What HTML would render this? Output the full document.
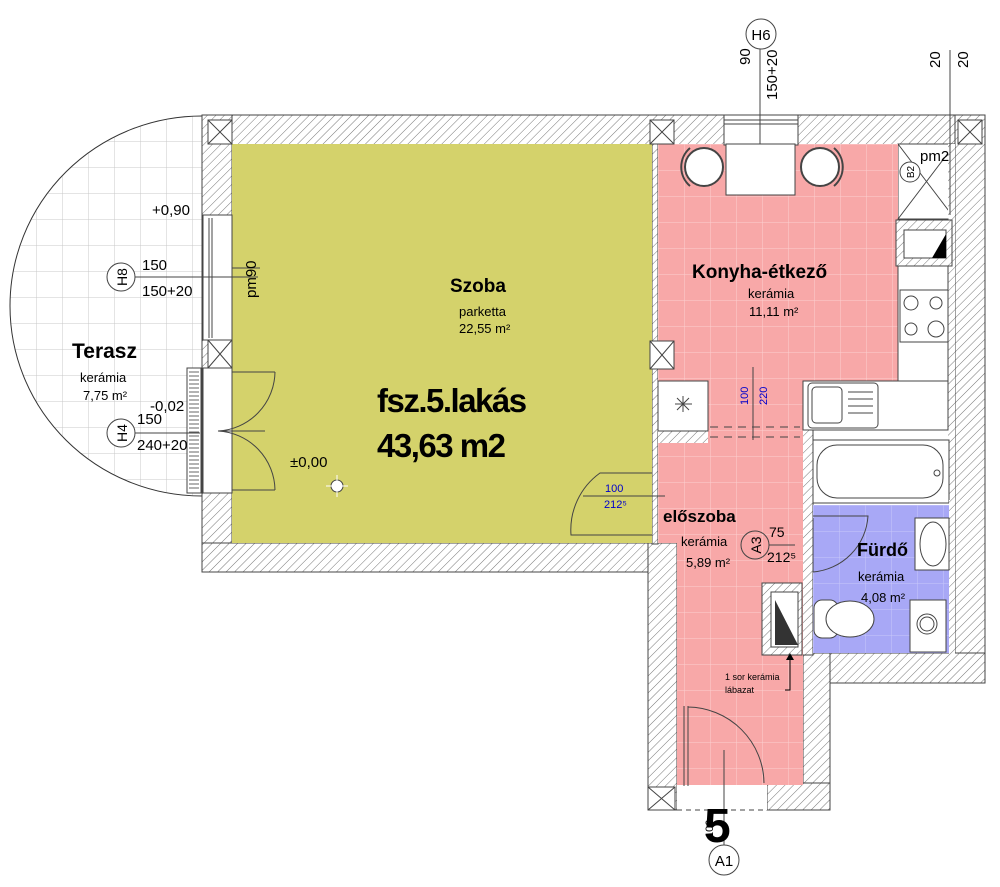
<!DOCTYPE html>
<html><head><meta charset="utf-8"><style>
html,body{margin:0;padding:0;background:#fff}
svg{display:block}
text{font-family:"Liberation Sans",sans-serif;fill:#000}
.b{font-weight:bold}
</style></head><body>
<svg width="1000" height="887" viewBox="0 0 1000 887" xmlns="http://www.w3.org/2000/svg">
<defs>
<pattern id="h" width="6" height="6" patternUnits="userSpaceOnUse" patternTransform="rotate(45)">
<rect width="6" height="6" fill="#fff"/><line x1="0" y1="0" x2="0" y2="6" stroke="#777" stroke-width="1"/>
</pattern>
<pattern id="gp" width="26" height="26" patternUnits="userSpaceOnUse" x="658" y="144">
<rect width="26" height="26" fill="#f8a8a8"/><path d="M0 0H26M0 0V26" stroke="#fcd0d0" stroke-width="1"/>
</pattern>
<pattern id="gb" width="26" height="26" patternUnits="userSpaceOnUse" x="813" y="505">
<rect width="26" height="26" fill="#a8a8f6"/><path d="M0 0H26M0 0V26" stroke="#c8c8fa" stroke-width="1"/>
</pattern>
<pattern id="gt" width="26" height="26" patternUnits="userSpaceOnUse" x="10" y="115">
<rect width="26" height="26" fill="#fff"/><path d="M0 0H26M0 0V26" stroke="#c8c8c8" stroke-width="1"/>
</pattern>
<clipPath id="tc"><path d="M202 116 A192 190 0 0 0 202 496 Z"/></clipPath>
</defs>

<!-- terrace -->
<rect x="0" y="100" width="202" height="410" fill="url(#gt)" clip-path="url(#tc)"/>
<path d="M202 116 A192 190 0 0 0 202 496" fill="none" stroke="#333" stroke-width="1"/>

<!-- walls -->
<rect x="202" y="115" width="783" height="30" fill="url(#h)" stroke="#444"/>
<rect x="202" y="115" width="30" height="457" fill="url(#h)" stroke="#444"/>
<rect x="202" y="543" width="475" height="29" fill="url(#h)" stroke="#444"/>
<rect x="955" y="115" width="30" height="568" fill="url(#h)" stroke="#444"/>
<rect x="800" y="653" width="185" height="30" fill="url(#h)" stroke="#444"/>
<rect x="648" y="543" width="29" height="267" fill="url(#h)" stroke="#444"/>
<rect x="803" y="653" width="27" height="157" fill="url(#h)" stroke="#444"/>
<rect x="767" y="783" width="63" height="27" fill="url(#h)" stroke="#444"/>
<rect x="652" y="144" width="6" height="400" fill="url(#h)" stroke="#444"/>
<rect x="802" y="430" width="11" height="225" fill="url(#h)" stroke="#444"/>
<rect x="898" y="144" width="57" height="75" fill="#fff" stroke="#444"/>
<path d="M898 144L955 219M955 144L898 219" stroke="#444"/>
<rect x="948" y="144" width="7" height="356" fill="url(#h)"/>

<!-- rooms -->
<rect x="232" y="144" width="420" height="399" fill="#d4d26b"/>
<rect x="658" y="144" width="240" height="237" fill="url(#gp)"/>
<rect x="708" y="380" width="95" height="52" fill="url(#gp)"/>
<rect x="658" y="443" width="145" height="100" fill="url(#gp)"/>
<rect x="677" y="540" width="126" height="245" fill="url(#gp)"/>
<rect x="677" y="785" width="90" height="25" fill="#fff"/>
<rect x="813" y="505" width="136" height="148" fill="url(#gb)"/>
<rect x="658" y="430" width="145" height="13" fill="url(#h)"/>
<rect x="708" y="430" width="95" height="13" fill="url(#gp)"/>
<path d="M710 437H800" stroke="#444" stroke-dasharray="8,6"/>
<path d="M710 427H800" stroke="#444" stroke-dasharray="8,6"/>

<!-- wall pillars -->
<rect x="208" y="120" width="24" height="24" fill="#fff" stroke="#444"/><path d="M208 120l24 24M232 120l-24 24" stroke="#444"/>
<rect x="650" y="120" width="24" height="24" fill="#fff" stroke="#444"/><path d="M650 120l24 24M674 120l-24 24" stroke="#444"/>
<rect x="958" y="120" width="24" height="24" fill="#fff" stroke="#444"/><path d="M958 120l24 24M982 120l-24 24" stroke="#444"/>
<rect x="208" y="340" width="24" height="28" fill="#fff" stroke="#444"/><path d="M208 340l24 28M232 340l-24 28" stroke="#444"/>
<rect x="650" y="341" width="24" height="28" fill="#fff" stroke="#444"/><path d="M650 341l24 28M674 341l-24 28" stroke="#444"/>
<rect x="648" y="787" width="27" height="23" fill="#fff" stroke="#444"/><path d="M648 787l27 23M675 787l-27 23" stroke="#444"/>

<!-- left windows / door -->
<rect x="203" y="215" width="29" height="125" fill="#fff" stroke="#444"/>
<path d="M209 218V338M212 218V338" stroke="#444"/>
<rect x="203" y="368" width="29" height="125" fill="#fff" stroke="#444"/>
<rect x="187" y="368" width="14" height="125" fill="#fff" stroke="#444"/>
<path d="M189 372H199M189 376H199M189 380H199M189 384H199M189 388H199M189 392H199M189 396H199M189 400H199M189 404H199M189 408H199M189 412H199M189 416H199M189 420H199M189 424H199M189 428H199M189 432H199M189 436H199M189 440H199M189 444H199M189 448H199M189 452H199M189 456H199M189 460H199M189 464H199M189 468H199M189 472H199M189 476H199M189 480H199M189 484H199M189 488H199" stroke="#666" stroke-width="1"/>
<path d="M232 372H275M232 490H275M218 431H265" stroke="#444"/>
<path d="M275 372A60 60 0 0 1 218 431A60 60 0 0 1 275 490" fill="none" stroke="#444"/>
<path d="M232 268H260" stroke="#444"/>

<!-- top window (kitchen) -->
<rect x="724" y="115" width="74" height="30" fill="#fff" stroke="#444"/>
<path d="M724 120H798M724 124H798" stroke="#444"/>
<path d="M760 20V145" stroke="#444"/>
<path d="M950 50V215" stroke="#444"/>
<rect x="726" y="144" width="69" height="51" fill="#fff" stroke="#444"/>
<circle cx="704" cy="167" r="19" fill="#fff" stroke="#444" stroke-width="2"/>
<circle cx="820" cy="167" r="19" fill="#fff" stroke="#444" stroke-width="2"/>
<path d="M690 148A25 25 0 0 0 690 186M834 148A25 25 0 0 1 834 186" fill="none" stroke="#444" stroke-width="2"/>

<!-- kitchen counter -->
<rect x="898" y="219" width="50" height="211" fill="#fff" stroke="#444"/>
<rect x="896" y="220" width="56" height="46" fill="url(#h)" stroke="#444"/>
<rect x="904" y="230" width="42" height="28" fill="#fff" stroke="#444"/>
<path d="M932 258H946V234Z" fill="#000"/>
<rect x="900" y="290" width="48" height="52" fill="#fff" stroke="#444"/>
<circle cx="911" cy="303" r="7" fill="none" stroke="#444"/><circle cx="936" cy="303" r="6" fill="none" stroke="#444"/>
<circle cx="911" cy="329" r="6" fill="none" stroke="#444"/><circle cx="936" cy="329" r="8" fill="none" stroke="#444"/>
<rect x="803" y="381" width="145" height="49" fill="#fff" stroke="#444"/>
<rect x="808" y="383" width="70" height="45" rx="4" fill="#fff" stroke="#444"/>
<rect x="812" y="387" width="30" height="36" rx="4" fill="#fff" stroke="#444"/>
<path d="M848 392H873M848 399H873M848 406H873M848 413H873" stroke="#444"/>
<rect x="658" y="381" width="50" height="50" fill="#fff" stroke="#444"/>
<path d="M675 404H692M683 396V412M677 398L689 410M689 398L677 410" stroke="#444"/>
<path d="M753 367V440" stroke="#444"/>

<!-- bathtub -->
<rect x="813" y="440" width="136" height="63" fill="#fff" stroke="#444"/>
<rect x="817" y="445" width="126" height="53" rx="20" fill="#fff" stroke="#444"/>
<circle cx="937" cy="473" r="3" fill="none" stroke="#444"/>
<rect x="949" y="500" width="6" height="155" fill="url(#h)"/>
<path d="M813 516H868A60 60 0 0 1 813 572" fill="none" stroke="#444"/>
<path d="M813 518V572" stroke="#444"/>
<rect x="915" y="518" width="34" height="52" fill="#fff" stroke="#444"/>
<ellipse cx="933" cy="544" rx="13" ry="22" fill="none" stroke="#444"/>
<rect x="910" y="600" width="36" height="52" fill="#fff" stroke="#444"/>
<circle cx="927" cy="624" r="10" fill="none" stroke="#444"/><circle cx="927" cy="624" r="7" fill="none" stroke="#444"/>
<rect x="814" y="600" width="24" height="38" rx="8" fill="#fff" stroke="#444"/>
<ellipse cx="850" cy="619" rx="24" ry="18" fill="#fff" stroke="#444"/>
<rect x="762" y="583" width="40" height="72" fill="url(#h)" stroke="#444"/>
<rect x="771" y="592" width="27" height="55" fill="#fff" stroke="#444"/>
<path d="M775 645H798L775 600Z" fill="#333"/>
<!-- szoba door -->
<path d="M652 473H600A70 70 0 0 0 571 535H652" fill="none" stroke="#444"/>
<path d="M583 496H665" stroke="#444"/>
<!-- entrance door -->
<path d="M684 706V786M688 706V786M688 707A77 77 0 0 1 764 783" fill="none" stroke="#444"/>
<path d="M724 750V845" stroke="#444"/>
<path d="M677 810H767" stroke="#444" stroke-dasharray="5,4"/>
<path d="M790 655V690H785" fill="none" stroke="#000"/><path d="M786 660L790 653L794 660Z"/>

<!-- bubbles -->
<circle cx="761" cy="34" r="15" fill="#fff" stroke="#444"/>
<text x="761" y="40" font-size="15" text-anchor="middle">H6</text>
<circle cx="724" cy="860" r="15" fill="#fff" stroke="#444"/>
<text x="724" y="866" font-size="15" text-anchor="middle">A1</text>
<circle cx="121" cy="277" r="14" fill="#fff" stroke="#444"/>
<text transform="translate(127 277) rotate(-90)" font-size="14" text-anchor="middle">H8</text>
<circle cx="121" cy="433" r="14" fill="#fff" stroke="#444"/>
<text transform="translate(127 433) rotate(-90)" font-size="14" text-anchor="middle">H4</text>
<circle cx="755" cy="545" r="14" fill="none" stroke="#444"/>
<text transform="translate(761 545) rotate(-90)" font-size="14" text-anchor="middle">A3</text>
<circle cx="910" cy="172" r="10" fill="#fff" stroke="#444"/>
<text transform="translate(914 172) rotate(-90)" font-size="10" text-anchor="middle">B2</text>
<path d="M135 277H258M135 433H200M769 545H795" stroke="#444"/>

<!-- texts -->
<text x="152" y="215" font-size="15">+0,90</text>
<text x="142" y="270" font-size="15">150</text>
<text x="142" y="296" font-size="15">150+20</text>
<text transform="translate(256 298) rotate(-90)" font-size="15">pm90</text>
<text x="72" y="358" font-size="21" class="b">Terasz</text>
<text x="80" y="382" font-size="13">kerámia</text>
<text x="83" y="400" font-size="13">7,75 m²</text>
<text x="150" y="411" font-size="15">-0,02</text>
<text x="137" y="424" font-size="15">150</text>
<text x="137" y="450" font-size="15">240+20</text>
<text x="290" y="467" font-size="15">±0,00</text>
<circle cx="337" cy="486" r="6" fill="#fff" stroke="#444"/><path d="M326 486H348M337 475V497" stroke="#fff"/>
<text x="450" y="292" font-size="19" class="b">Szoba</text>
<text x="459" y="316" font-size="13">parketta</text>
<text x="459" y="333" font-size="13">22,55 m²</text>
<text x="377" y="412" font-size="33" class="b" letter-spacing="-1.5">fsz.5.lakás</text>
<text x="377" y="457" font-size="33" class="b" letter-spacing="-1.5">43,63 m2</text>
<text x="692" y="278" font-size="19" class="b">Konyha-étkező</text>
<text x="748" y="298" font-size="13">kerámia</text>
<text x="749" y="316" font-size="13">11,11 m²</text>
<text x="920" y="161" font-size="15">pm2</text>
<text transform="translate(750 65) rotate(-90)" font-size="15">90</text>
<text transform="translate(777 100) rotate(-90)" font-size="15">150+20</text>
<text transform="translate(940 68) rotate(-90)" font-size="15">20</text>
<text transform="translate(968 68) rotate(-90)" font-size="15">20</text>
<text transform="translate(748 405) rotate(-90)" font-size="11" style="fill:#00c">100</text>
<text transform="translate(767 405) rotate(-90)" font-size="11" style="fill:#00c">220</text>
<text x="605" y="492" font-size="11" style="fill:#00c">100</text>
<text x="604" y="508" font-size="11" style="fill:#00c">212⁵</text>
<text x="663" y="522" font-size="17" class="b">előszoba</text>
<text x="681" y="546" font-size="13">kerámia</text>
<text x="686" y="567" font-size="13">5,89 m²</text>
<text x="769" y="537" font-size="14">75</text>
<text x="767" y="562" font-size="14">212⁵</text>
<text x="857" y="556" font-size="18" class="b">Fürdő</text>
<text x="858" y="581" font-size="13">kerámia</text>
<text x="861" y="602" font-size="13">4,08 m²</text>
<text x="725" y="680" font-size="9">1 sor kerámia</text>
<text x="725" y="693" font-size="9">lábazat</text>
<text x="704" y="842" font-size="48" class="b">5</text>
<text transform="translate(713 838) rotate(-90)" font-size="11">100</text>
</svg>
</body></html>
